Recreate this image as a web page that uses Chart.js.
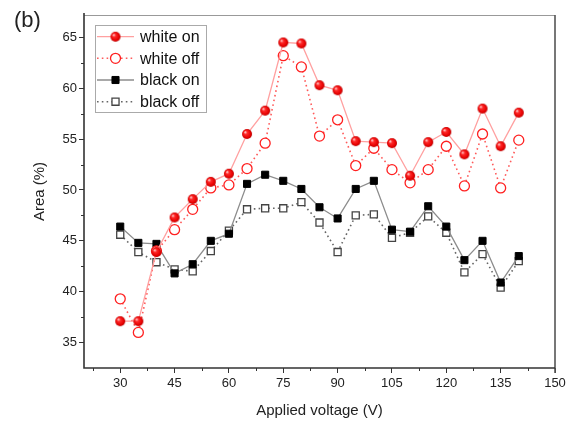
<!DOCTYPE html>
<html>
<head>
<meta charset="utf-8">
<script src="https://cdn.jsdelivr.net/npm/chart.js@4.4.0/dist/chart.umd.min.js"></script>
<style>
  html, body { margin: 0; padding: 0; background: #fff; }
  #wrap { width: 575px; height: 428px; }
</style>
</head>
<body>
<div id="wrap"><canvas id="myChart" width="575" height="428"></canvas></div>
<script>
"use strict";

// data
const voltage = [30, 35, 40, 45, 50, 55, 60, 65, 70, 75, 80, 85, 90, 95, 100, 105, 110, 115, 120, 125, 130, 135, 140];
const whiteOn = [37.1, 37.1, 43.9, 47.3, 49.1, 50.8, 51.6, 55.5, 57.8, 64.5, 64.4, 60.3, 59.8, 54.8, 54.7, 54.6, 51.4, 54.7, 55.7, 53.5, 58.0, 54.3, 57.6];
const whiteOff = [39.3, 36.0, 44.0, 46.1, 48.1, 50.2, 50.5, 52.1, 54.6, 63.2, 62.1, 55.3, 56.9, 52.4, 54.1, 52.0, 50.7, 52.0, 54.3, 50.4, 55.5, 50.2, 54.9];
const blackOn = [46.4, 44.8, 44.7, 41.8, 42.7, 45.0, 45.7, 50.6, 51.5, 50.9, 50.1, 48.3, 47.2, 50.1, 50.9, 46.1, 45.9, 48.4, 46.4, 43.1, 45.0, 40.9, 43.5];
const blackOff = [45.6, 43.9, 42.9, 42.2, 42.0, 44.0, 46.0, 48.1, 48.2, 48.2, 48.8, 46.8, 43.9, 47.5, 47.6, 45.3, 45.8, 47.4, 45.8, 41.9, 43.7, 40.4, 43.0];
const seriesNames = ['white on', 'white off', 'black on', 'black off'];
const xTicks = [30, 45, 60, 75, 90, 105, 120, 135, 150];
const yTicks = [35, 40, 45, 50, 55, 60, 65];
const xMinor = [22.5, 37.5, 52.5, 67.5, 82.5, 97.5, 112.5, 127.5, 142.5];
const yMinor = [37.5, 42.5, 47.5, 52.5, 57.5, 62.5];

const FONT = "'Liberation Sans', Arial, sans-serif";

// 빨간 구슬 모양 마커
function makeSphere(r) {
  const c = document.createElement('canvas');
  c.width = c.height = 2 * r + 2;
  const g = c.getContext('2d');
  const m = r + 1;
  const grad = g.createRadialGradient(m - r * 0.4, m - r * 0.4, r * 0.05, m, m, r);
  grad.addColorStop(0, '#ffe0e0');
  grad.addColorStop(0.3, '#ff2a2a');
  grad.addColorStop(0.8, '#e60000');
  grad.addColorStop(1, '#b30000');
  g.fillStyle = grad;
  g.beginPath();
  g.arc(m, m, r, 0, Math.PI * 2);
  g.fill();
  return c;
}
const sphere = makeSphere(5);

function pts(arr) {
  return voltage.map((v, i) => ({ x: v, y: arr[i] }));
}

const data = {
  datasets: [{
    label: seriesNames[0],
    data: pts(whiteOn),
    borderColor: '#ffa0a0',
    borderWidth: 1.3,
    pointStyle: sphere,
    pointRadius: 5,
    pointBackgroundColor: '#ff0000',
    pointBorderColor: '#ff0000'
  }, {
    label: seriesNames[1],
    data: pts(whiteOff),
    borderColor: '#ff5a5a',
    borderWidth: 1.6,
    borderDash: [1.6, 3.2],
    pointStyle: 'circle',
    pointRadius: 5,
    pointBorderWidth: 1.3,
    pointBackgroundColor: '#ffffff',
    pointBorderColor: '#ff2020'
  }, {
    label: seriesNames[2],
    data: pts(blackOn),
    borderColor: '#8c8c8c',
    borderWidth: 1.3,
    pointStyle: 'rect',
    pointRadius: 5,
    pointBorderWidth: 1,
    pointBackgroundColor: '#000000',
    pointBorderColor: '#000000'
  }, {
    label: seriesNames[3],
    data: pts(blackOff),
    borderColor: '#666666',
    borderWidth: 1.6,
    borderDash: [1.6, 3.2],
    pointStyle: 'rect',
    pointRadius: 5,
    pointBorderWidth: 1.3,
    pointBackgroundColor: '#ffffff',
    pointBorderColor: '#444444'
  }]
};

// frame, minor ticks, legend, panel label
const decor = {
  id: 'decor',
  afterDraw(chart) {
    const ctx = chart.ctx;
    const a = chart.chartArea;
    const xs = chart.scales.x, ys = chart.scales.y;
    ctx.save();
    // minor ticks
    ctx.strokeStyle = '#333';
    ctx.lineWidth = 1;
    ctx.beginPath();
    xMinor.forEach(v => {
      const px = Math.round(xs.getPixelForValue(v)) + 0.5;
      ctx.moveTo(px, a.bottom);
      ctx.lineTo(px, a.bottom + 3);
    });
    yMinor.forEach(v => {
      const py = Math.round(ys.getPixelForValue(v)) + 0.5;
      ctx.moveTo(a.left, py);
      ctx.lineTo(a.left - 3, py);
    });
    ctx.stroke();
    // frame
    ctx.lineWidth = 1;
    ctx.strokeStyle = '#999';
    ctx.beginPath();
    ctx.moveTo(a.left, a.top + 0.5);
    ctx.lineTo(a.right, a.top + 0.5);
    ctx.stroke();
    ctx.lineWidth = 1.6;
    ctx.strokeStyle = '#555';
    ctx.beginPath();
    ctx.moveTo(a.right, a.top);
    ctx.lineTo(a.right, a.bottom + 5);
    ctx.stroke();
    ctx.strokeStyle = '#333';
    ctx.beginPath();
    ctx.moveTo(a.left, a.top - 2);
    ctx.lineTo(a.left, a.bottom);
    ctx.lineTo(a.right, a.bottom);
    ctx.stroke();

    // legend
    const lx = 95, ly = 25, lw = 111, lh = 87;
    ctx.fillStyle = '#fff';
    ctx.fillRect(lx, ly, lw, lh);
    ctx.strokeStyle = '#aaa';
    ctx.lineWidth = 1;
    ctx.strokeRect(lx + 0.5, ly + 0.5, lw, lh);
    const rows = [36.7, 58.3, 80, 101.7];
    chart.data.datasets.forEach((ds, i) => {
      const y = rows[i];
      ctx.save();
      ctx.strokeStyle = ds.borderColor;
      ctx.lineWidth = ds.borderWidth;
      ctx.setLineDash(ds.borderDash || []);
      ctx.beginPath();
      ctx.moveTo(97, y);
      ctx.lineTo(134, y);
      ctx.stroke();
      ctx.restore();
      ctx.save();
      ctx.fillStyle = ds.pointBackgroundColor;
      ctx.strokeStyle = ds.pointBorderColor;
      ctx.lineWidth = ds.pointBorderWidth || 1;
      Chart.helpers.drawPoint(ctx, {
        pointStyle: ds.pointStyle, radius: 5, rotation: 0,
        borderWidth: ds.pointBorderWidth || 1
      }, 115.5, y);
      ctx.restore();
      ctx.fillStyle = '#111';
      ctx.font = '16px ' + FONT;
      ctx.textBaseline = 'middle';
      ctx.textAlign = 'left';
      ctx.fillText(ds.label, 140, y + 1);
    });

    // panel label
    ctx.fillStyle = '#222';
    ctx.font = '22px ' + FONT;
    ctx.textBaseline = 'middle';
    ctx.fillText('(b)', 14, 21);
    ctx.restore();
  }
};

const config = {
  type: 'line',
  data,
  options: {
    responsive: false,
    animation: false,
    devicePixelRatio: 1,
    layout: { padding: { top: 15, right: 20, left: 0, bottom: 0 } },
    plugins: {
      legend: { display: false },
      tooltip: { enabled: false }
    },
    scales: {
      x: {
        type: 'linear',
        min: 20,
        max: 150,
        afterBuildTicks: s => { s.ticks = xTicks.map(v => ({ value: v })); },
        afterFit: s => { s.height = 60; },
        border: { display: false },
        grid: { drawOnChartArea: false, drawTicks: true, tickLength: 5, color: '#333' },
        ticks: { font: { family: FONT, size: 13 }, color: '#222', padding: 3, maxRotation: 0 },
        title: {
          display: true, text: 'Applied voltage (V)',
          font: { family: FONT, size: 15 }, color: '#222',
          padding: { top: 0, bottom: 8 }
        }
      },
      y: {
        min: 32.5,
        max: 67.2,
        afterBuildTicks: s => { s.ticks = yTicks.map(v => ({ value: v })); },
        afterFit: s => { s.width = 84; },
        border: { display: false },
        grid: { drawOnChartArea: false, drawTicks: true, tickLength: 5, color: '#333' },
        ticks: { font: { family: FONT, size: 13 }, color: '#222', padding: 2 },
        title: {
          display: true, text: 'Area (%)',
          font: { family: FONT, size: 15 }, color: '#222',
          padding: { top: 31, bottom: 0 }
        }
      }
    }
  },
  plugins: [decor]
};

const myChart = new Chart(document.getElementById('myChart'), config);
</script>
</body>
</html>
